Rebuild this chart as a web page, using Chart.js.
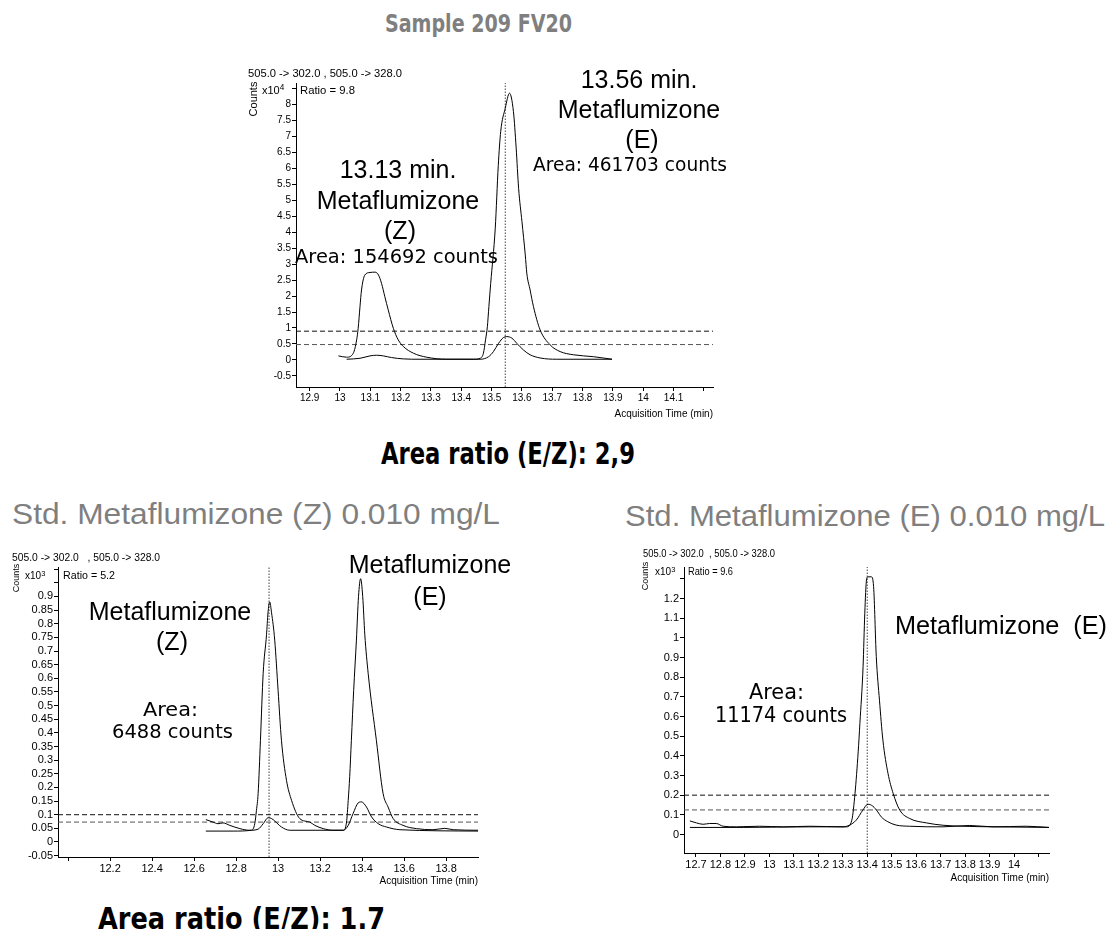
<!DOCTYPE html>
<html>
<head>
<meta charset="utf-8">
<script src="https://cdn.jsdelivr.net/npm/chart.js@4.4.1/dist/chart.umd.min.js"></script>
<style>
body { margin: 0; background: #fff; width: 1110px; height: 929px; position: relative; overflow: hidden; font-family: "Liberation Sans", Arial, sans-serif; }
canvas { position: absolute; }
.t { position: absolute; white-space: nowrap; line-height: 1; transform-origin: 0 50%; }
.t sup { font-size: 75%; vertical-align: 0.45em; line-height: 0; }
</style>
</head>
<body>
<canvas id="c1" width="510" height="375" style="left:230px;top:55px"></canvas>
<canvas id="c2" width="500" height="355" style="left:0px;top:540px"></canvas>
<canvas id="c3" width="490" height="355" style="left:620px;top:540px"></canvas>
<script>
// Sample 209 FV20 (counts x10^4)
const sTimeA = [12.995,13.022,13.044,13.055,13.06,13.066,13.071,13.082,13.099,13.116,13.127,13.137,13.148,13.159,13.176,13.192,13.209,13.242,13.286,13.352,13.44,13.462,13.473,13.48,13.486,13.491,13.497,13.512,13.522,13.53,13.545,13.559,13.572,13.581,13.589,13.6,13.611,13.616,13.627,13.638,13.66,13.693,13.726,13.77,13.836,13.897];
const sCountsA = [0.125,0.084,0.21,0.63,0.99,1.67,2.19,2.66,2.74,2.75,2.66,2.4,1.98,1.57,0.99,0.63,0.42,0.21,0.084,0.021,0.02,0.05,0.21,0.63,1.04,1.67,2.4,4.13,6.1,7.16,7.89,8.36,7.78,6.64,5.38,4.34,3.29,2.72,2.19,1.67,0.94,0.47,0.26,0.16,0.1,0.02];
const sTimeB = [13.022,13.066,13.099,13.121,13.143,13.17,13.209,13.264,13.462,13.49,13.506,13.523,13.539,13.55,13.567,13.583,13.605,13.627,13.66,13.715,13.897];
const sCountsB = [0.02,0.05,0.125,0.146,0.125,0.073,0.031,0.02,0.02,0.1,0.26,0.52,0.7,0.73,0.68,0.52,0.31,0.16,0.06,0.02,0.02];
const sLimits = [0.9, 0.48];
const sMarker = 13.545;
const sXTicks = [12.9,13,13.1,13.2,13.3,13.4,13.5,13.6,13.7,13.8,13.9,14,14.1,14.2];
const sXLabels = ['12.9','13','13.1','13.2','13.3','13.4','13.5','13.6','13.7','13.8','13.9','14','14.1',''];
const sYTicks = [-0.5,0,0.5,1,1.5,2,2.5,3,3.5,4,4.5,5,5.5,6,6.5,7,7.5,8,8.5];
const sYLabels = ['-0.5','0','0.5','1','1.5','2','2.5','3','3.5','4','4.5','5','5.5','6','6.5','7','7.5','8',''];

// Std. Metaflumizone (Z) 0.010 mg/L (counts x10^3)
const zTimeA = [12.656,12.786,12.873,12.889,12.897,12.905,12.916,12.929,12.945,12.952,12.96,12.969,12.984,13.0,13.016,13.04,13.064,13.103,13.151,13.175,13.215,13.262,13.31,13.326,13.334,13.341,13.349,13.36,13.373,13.383,13.393,13.403,13.413,13.429,13.468,13.5,13.524,13.548,13.595,13.659,13.738,13.794,13.834,13.952];
const zCountsA = [0.04,0.04,0.043,0.067,0.116,0.178,0.373,0.618,0.76,0.84,0.88,0.84,0.74,0.556,0.373,0.226,0.153,0.086,0.073,0.061,0.049,0.043,0.043,0.073,0.153,0.239,0.373,0.556,0.74,0.9,0.965,0.9,0.76,0.618,0.373,0.178,0.128,0.086,0.061,0.049,0.045,0.05,0.045,0.043];
const zTimeB = [12.656,12.69,12.714,12.738,12.77,12.818,12.865,12.905,12.929,12.953,12.969,12.984,13.016,13.056,13.31,13.334,13.357,13.381,13.397,13.421,13.445,13.477,13.516,13.58,13.952];
const zCountsB = [0.082,0.073,0.067,0.07,0.061,0.049,0.043,0.047,0.067,0.089,0.086,0.077,0.055,0.043,0.043,0.061,0.104,0.143,0.147,0.128,0.092,0.067,0.055,0.045,0.04];
const zLimits = [0.1, 0.073];
const zMarker = 12.957;
const zXTicks = [12,12.2,12.4,12.6,12.8,13,13.2,13.4,13.6,13.8];
const zXLabels = ['','12.2','12.4','12.6','12.8','13','13.2','13.4','13.6','13.8'];
const zYTicks = [-0.05,0,0.05,0.1,0.15,0.2,0.25,0.3,0.35,0.4,0.45,0.5,0.55,0.6,0.65,0.7,0.75,0.8,0.85,0.9,0.95,1];
const zYLabels = ['-0.05','0','0.05','0.1','0.15','0.2','0.25','0.3','0.35','0.4','0.45','0.5','0.55','0.6','0.65','0.7','0.75','0.8','0.85','0.9','',''];

// Std. Metaflumizone (E) 0.010 mg/L (counts x10^3)
const eTimeA = [12.675,12.893,13.166,13.316,13.337,13.35,13.363,13.37,13.383,13.39,13.397,13.403,13.417,13.426,13.437,13.45,13.464,13.485,13.506,13.533,13.574,13.642,13.71,13.791,13.914,14.143];
const eCountsA = [0.036,0.036,0.039,0.039,0.073,0.209,0.42,0.565,0.853,1.125,1.294,1.31,1.31,1.26,0.904,0.683,0.48,0.31,0.209,0.124,0.081,0.059,0.047,0.042,0.039,0.036];
const eTimeB = [12.675,12.702,12.729,12.756,12.783,12.811,12.865,12.96,13.056,13.165,13.301,13.328,13.355,13.382,13.403,13.423,13.443,13.457,13.484,13.518,13.573,13.709,13.818,13.914,14.05,14.143];
const eCountsB = [0.069,0.059,0.052,0.056,0.056,0.042,0.039,0.042,0.039,0.042,0.039,0.048,0.073,0.124,0.154,0.144,0.115,0.09,0.065,0.048,0.042,0.039,0.046,0.039,0.042,0.036];
const eLimits = [0.2, 0.125];
const eMarker = 13.40;
const eXTicks = [12.7,12.8,12.9,13,13.1,13.2,13.3,13.4,13.5,13.6,13.7,13.8,13.9,14,14.1];
const eXLabels = ['12.7','12.8','12.9','13','13.1','13.2','13.3','13.4','13.5','13.6','13.7','13.8','13.9','14',''];
const eYTicks = [0,0.1,0.2,0.3,0.4,0.5,0.6,0.7,0.8,0.9,1,1.1,1.2,1.3];
const eYLabels = ['0','0.1','0.2','0.3','0.4','0.5','0.6','0.7','0.8','0.9','1','1.1','1.2',''];

const SANS = '"Liberation Sans", Arial, sans-serif';
const NARROW = '"Liberation Sans Narrow", "Liberation Sans", Arial, sans-serif';
const GOTHIC = '"DejaVu Sans", sans-serif';

function pts(xs, ys) { return xs.map((x, i) => ({ x: x, y: ys[i] })); }

function chrom(id, o) {
    const sets = [
        { data: pts(o.tA, o.vA), borderColor: '#000', borderWidth: 1, pointRadius: 0, cubicInterpolationMode: 'monotone' },
        { data: pts(o.tB, o.vB), borderColor: '#000', borderWidth: 1, pointRadius: 0, cubicInterpolationMode: 'monotone' }
    ];
    o.limits.forEach((v, i) => sets.push({
        data: [{ x: o.x[0], y: v }, { x: o.x[1], y: v }],
        borderColor: i ? '#555' : '#111', borderWidth: 1, borderDash: [5, 3], pointRadius: 0
    }));
    sets.push({
        data: [{ x: o.marker, y: o.y[0] }, { x: o.marker, y: o.y[1] }],
        borderColor: '#444', borderWidth: 1, borderDash: [1.5, 1.5], pointRadius: 0
    });
    const font = { family: o.tickFamily || SANS, size: o.tickSize };
    return new Chart(document.getElementById(id), {
        type: 'line',
        data: { datasets: sets },
        options: {
            responsive: false, animation: false, devicePixelRatio: 1,
            layout: { padding: o.pad },
            plugins: { legend: { display: false }, tooltip: { enabled: false } },
            scales: {
                x: {
                    type: 'linear', min: o.x[0], max: o.x[1],
                    afterBuildTicks: s => { s.ticks = o.xTicks.map(v => ({ value: v })); },
                    afterFit: s => { s.height = o.xh; },
                    ticks: { autoSkip: false, maxRotation: 0, color: '#000', font: font, padding: 1,
                        callback: (v, i) => o.xLabels[i] },
                    grid: { drawOnChartArea: false, tickLength: 4, color: '#000' },
                    border: { color: '#000' },
                    title: { display: true, text: 'Acquisition Time (min)', align: 'end', color: '#000',
                        font: { family: o.tickFamily || SANS, size: o.titleSize }, padding: { top: 0, bottom: o.titlePad } }
                },
                y: {
                    type: 'linear', min: o.y[0], max: o.y[1],
                    afterBuildTicks: s => { s.ticks = o.yTicks.map(v => ({ value: v })); },
                    afterFit: s => { s.width = o.yw; },
                    ticks: { autoSkip: false, color: '#000', font: font, padding: 1,
                        callback: (v, i) => o.yLabels[i] },
                    grid: { drawOnChartArea: false, tickLength: 4, color: '#000' },
                    border: { color: '#000' }
                }
            }
        }
    });
}

chrom('c1', { tA: sTimeA, vA: sCountsA, tB: sTimeB, vB: sCountsB, limits: sLimits, marker: sMarker,
    x: [12.855, 14.23], y: [-0.85, 8.68], xTicks: sXTicks, xLabels: sXLabels, yTicks: sYTicks, yLabels: sYLabels,
    pad: { left: 0, top: 28, right: 27, bottom: 0 }, yw: 66, xh: 43, tickSize: 10, titleSize: 10, titlePad: 10 });
chrom('c2', { tA: zTimeA, vA: zCountsA, tB: zTimeB, vB: zCountsB, limits: zLimits, marker: zMarker,
    x: [11.952, 13.952], y: [-0.055, 1.008], xTicks: zXTicks, xLabels: zXLabels, yTicks: zYTicks, yLabels: zYLabels,
    pad: { left: 0, top: 27, right: 22, bottom: 0 }, yw: 58, xh: 38, tickSize: 11, titleSize: 10, titlePad: 8 });
chrom('c3', { tA: eTimeA, vA: eCountsA, tB: eTimeB, vB: eCountsB, limits: eLimits, marker: eMarker,
    x: [12.651, 14.143], y: [-0.094, 1.36], xTicks: eXTicks, xLabels: eXLabels, yTicks: eYTicks, yLabels: eYLabels,
    pad: { left: 0, top: 27, right: 61, bottom: 0 }, yw: 64, xh: 42, tickSize: 11, tickFamily: NARROW, titleSize: 10, titlePad: 11 });

// free text, page coordinates; y is the visual middle of the line
function put(html, x, y, o) {
    const el = document.createElement('div');
    el.className = 't';
    el.innerHTML = html;
    el.style.font = (o.weight || 'normal') + ' ' + o.size + 'px ' + (o.family || SANS);
    el.style.color = o.color || '#000';
    document.body.appendChild(el);
    const w0 = el.getBoundingClientRect().width;
    if (o.rot) {
        el.style.transformOrigin = '50% 50%';
        el.style.left = (x - w0 / 2) + 'px';
        el.style.top = (y - o.size / 2) + 'px';
        el.style.transform = 'rotate(-90deg)';
        return;
    }
    const k = o.w ? o.w / w0 : 1;
    const w = w0 * k;
    el.style.left = (o.align === 'center' ? x - w / 2 : x) + 'px';
    el.style.top = (y - o.size / 2) + 'px';
    el.style.transform = 'scaleX(' + k + ')';
}

const GRAY = '#7f7f7f';
put('Sample 209 FV20', 478, 22, { size: 24, weight: 'bold', family: GOTHIC, color: GRAY, w: 187, align: 'center' });
put('Area ratio (E/Z): 2,9', 381, 451, { size: 30, weight: 'bold', family: GOTHIC, w: 254 });
put('Std. Metaflumizone (Z) 0.010 mg/L', 12, 512, { size: 29, color: GRAY, w: 488 });
put('Std. Metaflumizone (E) 0.010 mg/L', 625, 514, { size: 29, color: GRAY, w: 480 });
put('Area ratio (E/Z): 1.7', 98, 915, { size: 31, weight: 'bold', family: GOTHIC, w: 287 });

// top chart
put('505.0 -&gt; 302.0 , 505.0 -&gt; 328.0', 248, 72, { size: 11, w: 154 });
put('Counts', 253, 98, { size: 11, rot: true });
put('x10<sup>4</sup>', 262, 89, { size: 11 });
put('Ratio = 9.8', 300, 89, { size: 11, w: 55 });
put('13.13 min.', 398, 167, { size: 25, align: 'center' });
put('Metaflumizone', 398, 198, { size: 25, align: 'center' });
put('(Z)', 400, 228, { size: 25, align: 'center' });
put('Area: 154692 counts', 295, 254, { size: 20, family: GOTHIC, w: 203 });
put('13.56 min.', 639, 77, { size: 25, align: 'center' });
put('Metaflumizone', 639, 107, { size: 25, align: 'center' });
put('(E)', 642, 137, { size: 25, align: 'center' });
put('Area: 461703 counts', 630, 162, { size: 19, family: GOTHIC, w: 194, align: 'center' });

// Z standard
put('505.0 -&gt; 302.0 &nbsp;&nbsp;, 505.0 -&gt; 328.0', 12, 557, { size: 10, w: 148 });
put('Counts', 16, 577, { size: 9, rot: true });
put('x10<sup>3</sup>', 25, 575, { size: 10 });
put('Ratio = 5.2', 63, 575, { size: 10, w: 52 });
put('Metaflumizone', 170, 609, { size: 25, align: 'center' });
put('(Z)', 172, 639, { size: 25, align: 'center' });
put('Metaflumizone', 430, 562, { size: 25, align: 'center' });
put('(E)', 430, 594, { size: 25, align: 'center' });
put('Area:', 170, 707, { size: 20, family: GOTHIC, w: 55, align: 'center' });
put('6488 counts', 172, 729, { size: 20, family: GOTHIC, w: 121, align: 'center' });

// E standard
put('505.0 -&gt; 302.0 &nbsp;, 505.0 -&gt; 328.0', 643, 553, { size: 10, w: 132 });
put('Counts', 645, 575, { size: 9, rot: true });
put('x10<sup>3</sup>', 655, 571, { size: 10 });
put('Ratio = 9.6', 688, 571, { size: 10, w: 45 });
put('Metaflumizone&nbsp;&nbsp;(E)', 895, 623, { size: 25, w: 212 });
put('Area:', 776, 690, { size: 21, family: GOTHIC, w: 55, align: 'center' });
put('11174 counts', 781, 713, { size: 21, family: GOTHIC, w: 132, align: 'center' });
</script>
</body>
</html>
